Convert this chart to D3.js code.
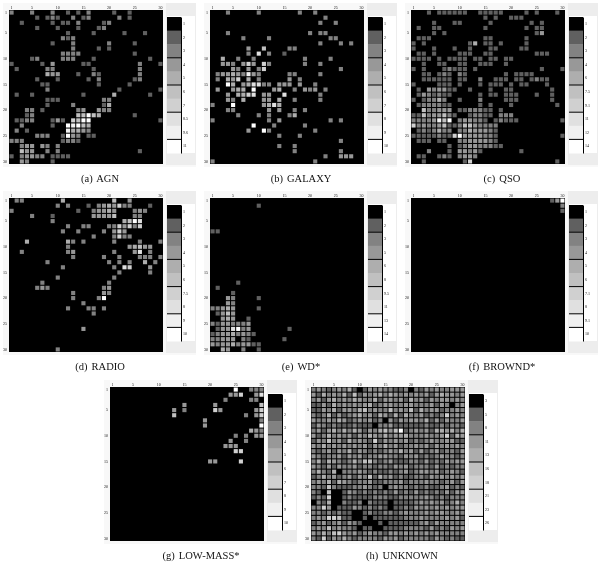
<!DOCTYPE html>
<html><head><meta charset="utf-8">
<script src="https://cdn.jsdelivr.net/npm/d3@7"></script>
<style>html,body{margin:0;padding:0;background:#fff}svg{display:block;filter:grayscale(1) blur(0.3px)}</style>
</head><body><svg id="c" width="600" height="562"></svg>
<script>
// Each panel: 30 rows (top to bottom); entries are "column:level" with level 1-9 (0 = black).
const agn = [
"0:2 4:2 8:2 11:1 13:1 15:2 20:1 23:1","5:1 7:1 8:2 9:1 12:2 14:1 15:2 21:2 23:1","2:1 8:1 10:1 11:1 13:2 18:1 19:2","5:1 9:1 13:1 17:1 18:2","11:1 16:1 22:1 26:1",
"10:2 11:1 12:2","8:1 12:2 19:2 24:1","12:2 17:1 19:1","10:2 11:2 12:2 13:2 24:1","4:1 5:2 10:2 11:2 12:2 16:1 27:1",
"0:1 6:1 8:3 14:1 15:1 25:2 29:1","1:1 7:2 8:2 16:1 25:2","7:4 8:3 9:3 13:1 16:2 17:1 25:2","5:1 9:1 15:1 17:2 24:1 25:2","6:1 7:1 17:1 23:1",
"7:2 21:1 29:1","1:1 4:1 14:1 20:4 27:1","7:1 8:1 9:1 18:2 19:2","7:1 12:2 18:1 19:4","3:2 4:2 6:1 13:2 14:3 17:3 18:2 19:2",
"3:1 4:2 13:5 14:5 15:9 16:5 17:4 24:1","1:1 2:1 3:2 4:2 8:1 9:3 10:1 12:6 13:5 14:9 15:9 29:1","2:2 8:1 11:9 12:8 13:9 14:5 15:4","1:2 3:1 11:8 12:4 13:4 14:3 15:2","5:2 6:2 7:2 10:1 11:9 12:3 13:2 15:1 16:1",
"0:2 1:2 2:2 10:1 11:2 12:2 13:1","2:2 3:3 4:3 6:3 7:2 9:2","2:5 3:3 4:3 7:2 9:2 25:1","0:1 2:2 3:3 4:3 5:2 6:2 8:1 9:1 10:1 11:1","2:3 3:2 8:1"];
const galaxy = [
"3:2 9:2 17:2 20:2","22:2","21:2 24:2","","3:2 19:2 21:2 22:2",
"6:2 11:2 23:2 24:2","21:2 25:2 27:2","7:3 10:5 15:2 16:2","7:2 9:7 11:2 14:1","2:4 5:2 8:2 18:2 23:2",
"2:3 3:3 4:2 6:3 7:6 8:3 10:6 11:2 18:2 21:2","4:3 5:2 7:3 9:2 10:6 25:2","1:2 2:3 3:3 4:4 5:3 6:2 7:8 8:3 9:2 15:2 16:2 21:2","1:2 3:4 4:3 5:6 7:4 9:2 15:3 17:2","3:9 4:4 6:3 7:4 8:7 9:7 10:2 11:2 13:3 14:3 15:3 17:3 20:2",
"1:3 4:3 5:4 6:4 8:9 12:3 13:4 16:2 18:3 19:2 20:3 22:2","3:3 5:4 6:4 7:6 8:7 10:3 11:3 14:7 21:2","3:3 4:2 6:4 10:3 11:3 13:4 16:2 21:2","0:2 4:9 10:3 11:4 12:7 13:4","3:2 4:2 11:3 13:3 16:2 18:2",
"5:2 9:2 11:2 15:2 16:4","0:2 11:2 13:3 23:2 25:2","8:9 12:2 18:2","7:3 10:9 11:2 20:2","13:2 17:2",
"25:2","13:2 16:2","16:2 25:2","22:2 25:3 26:3 27:3","0:2 20:2"];
const qso = [
"3:1 5:1 6:1 7:1 8:1 9:1 10:1 13:1 14:1 15:1 16:1 17:1 22:1 24:1 28:1","14:1 16:1 19:1 20:1 21:1","4:1 8:1 9:1 15:1 23:1 25:1","1:1 4:1 5:1 14:1 22:1 24:1 25:1","4:1 6:1 24:1 25:3",
"1:1 2:1 3:1 14:1 15:1 22:1","0:1 2:1 11:1 12:4 14:1 15:1 17:1 22:1","0:1 4:1 8:1 11:1 15:1 16:1 21:1 22:1","1:1 2:1 4:1 9:1 10:1 11:1 14:1 15:1 24:1 25:1 26:1","0:1 1:1 2:1 3:1 5:1 7:1 8:1 9:1 10:1 12:1 13:1 15:1 16:1 18:1 19:1",
"2:1 5:1 6:1 9:1 10:1 13:1 14:1 15:1 18:1","0:1 2:1 6:1 7:2 8:1 9:1 10:1 12:1 25:1 29:1","2:1 3:1 5:1 6:2 7:1 9:2 10:1 18:1 20:1 21:1 22:1 23:1","2:1 3:1 4:1 5:1 6:1 7:1 9:1 10:1 13:2 16:1 17:1 18:1 20:1 21:1 23:1 24:2 25:1 26:1","0:1 5:1 6:1 7:1 9:1 13:1 15:1 16:1 17:1 19:1 21:1 22:1 26:1",
"1:1 3:3 4:2 5:3 6:3 7:1 8:1 11:1 15:1 18:1 19:1 27:1","1:1 2:3 3:2 4:1 5:2 6:1 7:1 13:1 15:1 16:1 18:1 19:1 20:1 24:1 27:1","0:1 2:1 3:2 4:2 5:4 6:2 9:1 13:2 18:1 19:1 20:1 27:1","1:1 2:2 3:2 4:2 5:2 6:1 7:1 13:1 15:1 19:1 28:1","2:5 3:2 4:2 5:3 6:3 7:3 9:1 10:1 11:2 12:2 13:2 14:1 15:1 17:1",
"0:1 1:1 2:5 3:2 4:3 5:3 6:5 7:2 8:1 11:1 12:2 13:2 14:1 15:1 17:2 18:2 19:2","0:2 1:2 2:2 3:2 4:3 5:8 6:5 7:9 9:2 10:3 11:3 12:2 13:2 14:1 16:1 17:2 18:1 19:1 20:1 29:1","0:6 1:2 2:3 3:2 4:2 5:3 6:5 7:1 8:1 9:2 10:5 11:5 12:3 13:2 14:2 15:2 16:2","1:1 2:2 3:1 4:2 5:4 6:2 7:2 9:2 10:2 11:4 12:3 13:3 14:3 15:2 16:1","0:1 1:1 2:1 3:1 4:1 5:2 6:1 7:1 8:6 9:9 10:3 11:3 12:3 13:3 14:2 15:2 16:1 29:1",
"1:1 2:1 3:1 5:1 6:1 9:2 10:2 11:3 12:3 13:3 14:3 15:2 16:1","7:1 9:1 10:2 11:3 12:3 13:2 14:2 15:2 16:1 17:1","3:2 7:1 9:3 10:3 11:2 12:3 13:1 21:1","1:1 2:1 5:1 6:2 7:1 9:2 10:3 11:3 12:2","2:1 10:1 11:6 28:1"];
const radio = [
"1:2 2:2 10:4 20:5 23:3","9:2 11:2 15:1 17:2 18:3 19:4 20:3 21:6 22:2 23:2 27:1","0:2 13:1 16:2 17:3 18:3 19:4 20:3 24:2 25:3 26:2","4:2 8:1 16:3 17:3 18:3 19:3 20:5 24:2 25:2","8:2 22:4 23:5 24:9 25:7",
"11:2 14:2 15:2 19:2 20:2 21:6 22:3 23:6 24:2 25:6","10:2 13:2 18:2 20:3 21:6 22:3","16:2 20:2 21:6 22:2 23:2","3:4 11:4 12:2 14:2 20:2 25:2 29:2","11:2 23:3 24:4 25:5 26:3 27:3",
"2:2 11:2 12:3 20:2 24:3 25:7 27:2","12:2 18:2 21:2 25:2 26:2 27:2 29:2","7:2 19:2 21:2 23:2 26:4 28:2","10:2 20:2 22:7 23:6 27:3","21:2 27:2",
"9:2 20:2","6:2 19:2","5:2 6:3 7:2 18:2 19:3","12:2 18:3 19:2","12:2 17:2 18:9",
"14:2","11:2 15:2 16:2 18:2","16:2","","",
"14:3","","","","9:2"];
const wd = [
"","9:1","","","",
"","0:1 1:1","","","",
"","","","","",
"","5:1","1:1","4:1","3:3 4:2 9:1",
"3:3 4:2","0:2 1:2 2:3 3:4 4:3 9:1","1:1 2:3 3:5 4:3","2:3 3:4 4:3 7:1","0:2 1:1 2:3 3:3 4:2 5:2 6:2 7:3",
"1:1 2:3 3:3 4:7 5:9 6:2 7:3 15:1","0:1 1:2 2:3 3:3 4:4 5:2 6:3 7:2 8:1","0:2 1:2 2:3 3:3 4:3 6:2 7:1 14:1","0:3 1:2 2:3 3:3 4:4 5:2 6:3 7:3 8:1 9:1","2:4 3:3 6:2 9:1"];
const brown = [
"27:1 28:3 29:9","29:2","29:1","","",
"","","","","","","","","","",
"","","","","","","","","","",
"","","","",""];
const lowMass = [
"24:9 27:2 28:2 29:2","23:3 24:3 25:6 28:3 29:7","22:2 27:2 28:2","14:3 20:3 29:5","12:3 14:2 20:6 21:3 28:3 29:6",
"12:5 26:2 28:3 29:6","18:3 29:2","18:3 29:9","27:4 28:3 29:2","24:2 26:2 28:3 29:3",
"23:3 26:2","22:3 23:3 24:3","24:6 25:6","","19:3 20:3 25:6",
"","","","","","","","","","",
"","","","",""];
// UNKNOWN is dense: one digit per column.
const unknown = [
"232123241013232211202132322333","314232415132342432323231343323","231342324322413323142313233232","113142323234123322332223132023","113241332452322523251423312232",
"212413123423143141422312126232","322324312323120313233241313223","132121112111022311111121121221","231342424313245359123231443424","312423231324324233422232236143",
"132523142321613232312123223311","324232323231324231223231323232","212313241321212324231312312213","321223132312233221323121232212","241432124255212311122131213233",
"321313223122122132312221312122","242140222321211212312332312321","124231231325142312112213232323","232414321223112223122232212313","221521112232120232212121123121",
"210500132121212131213121213133","121600121111222112222232121222","021400211202111011112323231242","226301113212121011213232323233","221212110012112212322232332232",
"232665110010111111222322223231","123123132100010111111231322222","232523221011001111222213121323","324256323123221332323232322222","216132421222213231222221321211"];

const colTicks = [1,5,10,15,20,25,30];
const rowTicks = [1,5,10,15,20,25,30];
const grayLevels = ["#000000","#606060","#828282","#989898","#aeaeae","#c0c0c0","#d0d0d0","#e0e0e0","#f0f0f0","#ffffff"];

const barAgn = ["1","2","3","4","5","6","7","8.5","9.6","11"];
const barGalaxy = ["1","2","3","4","5","6","7","8","9","10"];
const barQso = ["1","2","3","4","6","7.5","9.1","11","12","14"];
const barRadio = ["1","2","3","4","5","6","7.5","8","9","10"];
const barWd = ["1","2","3","5","6","8","9.5","11","13","14"];
const barBrown = ["1","2","3","4","5","6","7.1","8","9.1","10"];
const barLow = ["1","2","3","4","5","6","7","8","9","10"];
const barUnknown = ["3","5","8","11","13","16","18","21","23","26"];

const titles = ["(a) AGN","(b) GALAXY","(c) QSO","(d) RADIO","(e) WD*","(f) BROWND*","(g) LOW-MASS*","(h) UNKNOWN"];
const panelData = [agn,galaxy,qso,radio,wd,brown,lowMass,unknown];
const panelBars = [barAgn,barGalaxy,barQso,barRadio,barWd,barBrown,barLow,barUnknown];
const panelLines = [[3,5,7,9],[3,5,7,9],[3,5,7,9],[2,4,6,8,9],[2,4,6,8,9],[2,4,6,8,9],[3,5,7,9],[3,5,7,9]];
const origins = [[9,10],[210,10],[411,10],[9,198],[210,198],[411,198],[110,387],[311,387]];

const svg = d3.select("#c");
const MAP = 154, BAR_X = MAP+4, BAR_W = 14, BAR_TOP = 7, BAR_H = 136;
const ids = d3.range(1,31);
const x = d3.scaleBand().domain(ids).range([0,MAP]).paddingInner(0.2).paddingOuter(0.1);
const y = d3.scaleBand().domain(ids).range([0,MAP]).paddingInner(0.2).paddingOuter(0.1);
const gray = d3.scaleOrdinal().domain(d3.range(10)).range(grayLevels);

function cells(rows){
  const out = [];
  rows.forEach((s,r)=>{
    if(/^\d+$/.test(s)){
      s.split("").forEach((d,c)=>out.push({r:r+1,c:c+1,v:+d}));
    } else if(s){
      s.split(" ").forEach(t=>{const [c,v]=t.split(":");out.push({r:r+1,c:+c+1,v:+v});});
    }
  });
  return out;
}

panelData.forEach((rows,i)=>{
  const g = svg.append("g").attr("transform",`translate(${origins[i][0]},${origins[i][1]})`);
  g.append("rect").attr("x",-6).attr("y",-7).attr("width",193).attr("height",164).attr("fill","#f8f8f8");
  g.append("rect").attr("x",MAP+3).attr("y",-7).attr("width",30).attr("height",162).attr("fill","#ededed");
  g.append("rect").attr("x",MAP+4).attr("y",BAR_TOP-1).attr("width",28).attr("height",BAR_H+1).attr("fill","#fff");
  g.append("rect").attr("width",MAP).attr("height",MAP).attr("fill","#000");
  g.selectAll("rect.cell").data(cells(rows)).join("rect").attr("class","cell")
    .attr("x",d=>x(d.c)).attr("y",d=>y(d.r))
    .attr("width",x.bandwidth()).attr("height",y.bandwidth())
    .attr("fill",d=>gray(d.v));

  const top = d3.axisTop(d3.scaleBand().domain(ids).range([0,MAP])).tickValues(colTicks).tickSize(0).tickPadding(1);
  const ax = g.append("g").call(top);
  const left = d3.axisLeft(d3.scaleBand().domain(ids).range([0,MAP])).tickValues(rowTicks).tickSize(0).tickPadding(2);
  const ay = g.append("g").call(left);
  [ax,ay].forEach(a=>{
    a.select(".domain").remove();
    a.selectAll("text").attr("font-family","Liberation Serif").attr("font-size",4).attr("fill","#111");
  });

  // colour bar
  const levels = d3.range(10);
  const by = d3.scaleBand().domain(levels).range([BAR_TOP,BAR_TOP+BAR_H]);
  const bar = g.append("g").attr("transform",`translate(${BAR_X},0)`);
  bar.selectAll("rect").data(levels).join("rect")
    .attr("x",0).attr("y",d=>by(d)).attr("width",BAR_W).attr("height",by.bandwidth()+0.5)
    .attr("fill",d=>gray(d));
  bar.selectAll("line.sep").data(panelLines[i]).join("line").attr("class","sep")
    .attr("x1",0).attr("x2",BAR_W).attr("y1",d=>by(d)).attr("y2",d=>by(d))
    .attr("stroke","#000").attr("stroke-width",1);
  const labelScale = d3.scaleBand().domain(panelBars[i]).range([BAR_TOP,BAR_TOP+BAR_H]);
  const ba = bar.append("g").attr("transform",`translate(${BAR_W},0)`)
    .call(d3.axisRight(labelScale).tickSize(1).tickPadding(1).tickSizeOuter(0));
  ba.select(".domain").attr("stroke","#000").attr("stroke-width",1);
  ba.selectAll("text").attr("font-family","Liberation Serif").attr("font-size",4).attr("fill","#111");

  g.append("text").attr("x",91).attr("y",171.5).attr("text-anchor","middle")
    .attr("font-family","Liberation Serif").attr("font-size",10.5).attr("word-spacing",1.5)
    .attr("fill","#111").text(titles[i]);
});
</script></body></html>
